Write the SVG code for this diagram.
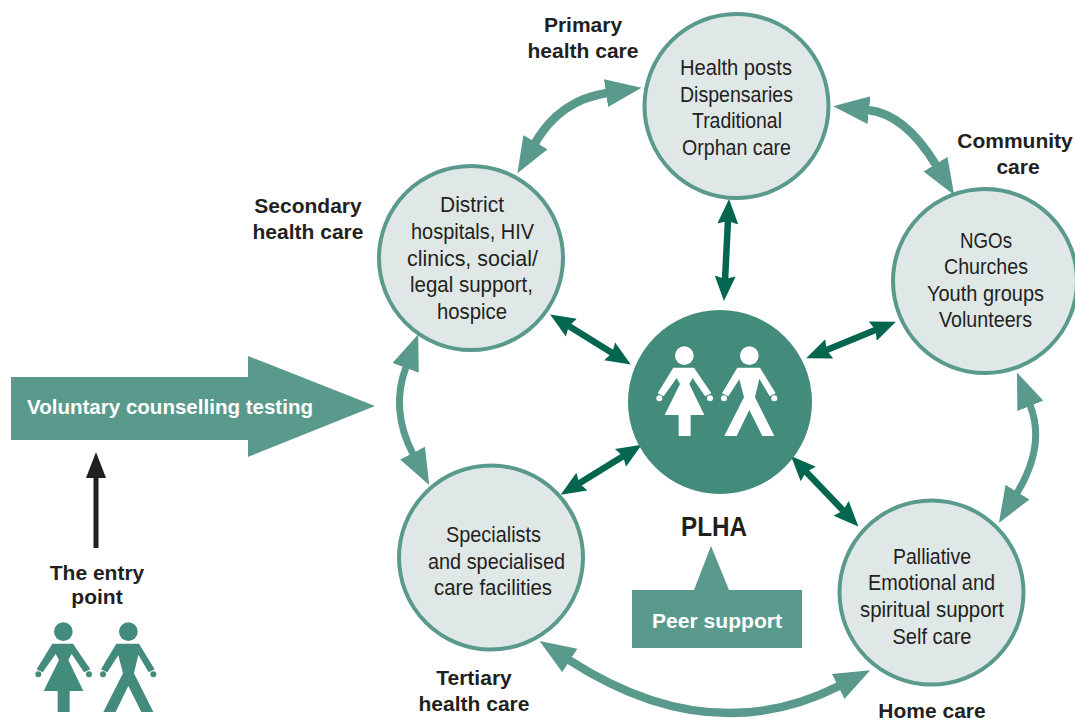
<svg xmlns="http://www.w3.org/2000/svg" width="1075" height="720" viewBox="0 0 1075 720">
<style>
text{font-family:"Liberation Sans",Arial,sans-serif;font-size:22px;fill:#231f20;text-anchor:middle}
.b{font-weight:bold;font-size:21px}
.w{fill:#fff;font-weight:bold;font-size:21px}
.c{fill:#dfe8e6;stroke:#5a9a8c;stroke-width:4}
.curve{fill:none;stroke:#5a9a8c;stroke-width:8.5;marker-start:url(#lh);marker-end:url(#lh)}
.curve2{fill:none;stroke:#5a9a8c;stroke-width:7;marker-start:url(#lh);marker-end:url(#lh)}
.dark{stroke:#04664f;stroke-width:6.5;marker-start:url(#dh);marker-end:url(#dh)}
</style>
<defs>
<marker id="lh" markerUnits="userSpaceOnUse" markerWidth="38" markerHeight="30" refX="1" refY="15" orient="auto-start-reverse"><path d="M0 1L36 15L0 29Z" fill="#5a9a8c"/></marker>
<marker id="dh" markerUnits="userSpaceOnUse" markerWidth="26" markerHeight="24" refX="14" refY="12" orient="auto-start-reverse"><path d="M25 12L0 1.5L3 12L0 22.5Z" fill="#04664f"/></marker>
<g id="couple" transform="scale(.3333)">
<circle cx="193" cy="137" r="28"/><circle cx="118" cy="265" r="9"/><circle cx="270" cy="265" r="9"/>
<path d="M160 173H222L274 250L255 259L218 204L208 222L253 315H212V378H176V315H134L180 222L170 204L131 259L113 250Z"/>
<circle cx="388" cy="137" r="28"/><circle cx="312" cy="265" r="9"/><circle cx="463" cy="265" r="9"/>
<path d="M352 173H420L467 250L449 259L418 206L405 262L463 378H427L388 300L350 378H313L372 262L358 208L325 259L306 250Z"/>
</g>
</defs>
<g id="connectors">
<path class="curve" d="M607 93Q560 100 535 143"/>
<path class="curve" d="M868 110Q905 114 936 165"/>
<path class="curve2" d="M1030 405Q1046 445 1017 493"/>
<path class="curve" d="M569 660Q710 751 839 686"/>
<path class="curve2" d="M406 367Q390 410 413 454"/>
<line class="dark" x1="728.5" y1="210" x2="724.5" y2="290"/>
<line class="dark" x1="559.5" y1="320.3" x2="621.5" y2="358.7"/>
<line class="dark" x1="885.7" y1="325.8" x2="816.3" y2="354.2"/>
<line class="dark" x1="570" y1="489" x2="632.4" y2="450.5"/>
<line class="dark" x1="798.6" y1="463.9" x2="850.8" y2="518.5"/>
<line x1="96" y1="548" x2="96" y2="475" stroke="#231f20" stroke-width="5"/>
<path d="M96 452L106 478H86Z" fill="#231f20"/>
</g>
<g id="primary"><circle class="c" cx="736.5" cy="106" r="92"/>
<text x="736" y="75" textLength="112" lengthAdjust="spacingAndGlyphs">Health posts</text><text x="736.5" y="101.5" textLength="113" lengthAdjust="spacingAndGlyphs">Dispensaries</text><text x="737" y="128" textLength="90" lengthAdjust="spacingAndGlyphs">Traditional</text><text x="736.5" y="155" textLength="109" lengthAdjust="spacingAndGlyphs">Orphan care</text></g>
<g id="community"><circle class="c" cx="985" cy="281" r="92"/>
<text x="986" y="248" textLength="52" lengthAdjust="spacingAndGlyphs">NGOs</text><text x="986" y="274" textLength="84" lengthAdjust="spacingAndGlyphs">Churches</text><text x="985.5" y="301" textLength="117" lengthAdjust="spacingAndGlyphs">Youth groups</text><text x="985.5" y="327" textLength="93" lengthAdjust="spacingAndGlyphs">Volunteers</text></g>
<g id="secondary"><circle class="c" cx="471" cy="258" r="92"/>
<text x="472" y="212" textLength="64" lengthAdjust="spacingAndGlyphs">District</text><text x="472.5" y="239" textLength="123" lengthAdjust="spacingAndGlyphs">hospitals, HIV</text><text x="472.5" y="266" textLength="131" lengthAdjust="spacingAndGlyphs">clinics, social/</text><text x="471.5" y="292" textLength="123" lengthAdjust="spacingAndGlyphs">legal support,</text><text x="472" y="319" textLength="70" lengthAdjust="spacingAndGlyphs">hospice</text></g>
<g id="tertiary"><circle class="c" cx="491" cy="557.5" r="92"/>
<text x="493.5" y="542" textLength="95" lengthAdjust="spacingAndGlyphs">Specialists</text><text x="496.5" y="569" textLength="137" lengthAdjust="spacingAndGlyphs">and specialised</text><text x="493" y="595" textLength="118" lengthAdjust="spacingAndGlyphs">care facilities</text></g>
<g id="home"><circle class="c" cx="931.5" cy="592.5" r="92"/>
<text x="932" y="564" textLength="78" lengthAdjust="spacingAndGlyphs">Palliative</text><text x="931.5" y="590" textLength="127" lengthAdjust="spacingAndGlyphs">Emotional and</text><text x="932" y="617" textLength="144" lengthAdjust="spacingAndGlyphs">spiritual support</text><text x="932" y="643.5" textLength="79" lengthAdjust="spacingAndGlyphs">Self care</text></g>
<g id="plha"><circle cx="720" cy="402" r="92" fill="#438b7b"/>
<use href="#couple" x="620" y="310" fill="#fff"/>
<text x="714" y="536" style="font-size:27px;font-weight:bold" textLength="66" lengthAdjust="spacingAndGlyphs">PLHA</text></g>
<g id="entry"><text class="b" x="97" y="580">The entry</text><text class="b" x="97" y="604">point</text>
<use href="#couple" x="-1" y="586" fill="#438b7b"/></g>
<g id="vct"><path d="M11 377H248V356L375 406L248 457V440H11Z" fill="#5a9a8c"/>
<text class="w" x="170" y="414" textLength="286" lengthAdjust="spacingAndGlyphs">Voluntary counselling testing</text></g>
<g id="peer"><path d="M632 590H694L711 546L729 590H802V648H632Z" fill="#5a9a8c"/>
<text class="w" x="717" y="628" textLength="130" lengthAdjust="spacingAndGlyphs">Peer support</text></g>
<g id="labels">
<text class="b" x="583" y="32">Primary</text><text class="b" x="583" y="58">health care</text>
<text class="b" x="1015" y="148">Community</text><text class="b" x="1018" y="174">care</text>
<text class="b" x="308" y="213">Secondary</text><text class="b" x="308" y="239">health care</text>
<text class="b" x="474" y="685">Tertiary</text><text class="b" x="474" y="711">health care</text>
<text class="b" x="932" y="718">Home care</text>
</g>
</svg>
